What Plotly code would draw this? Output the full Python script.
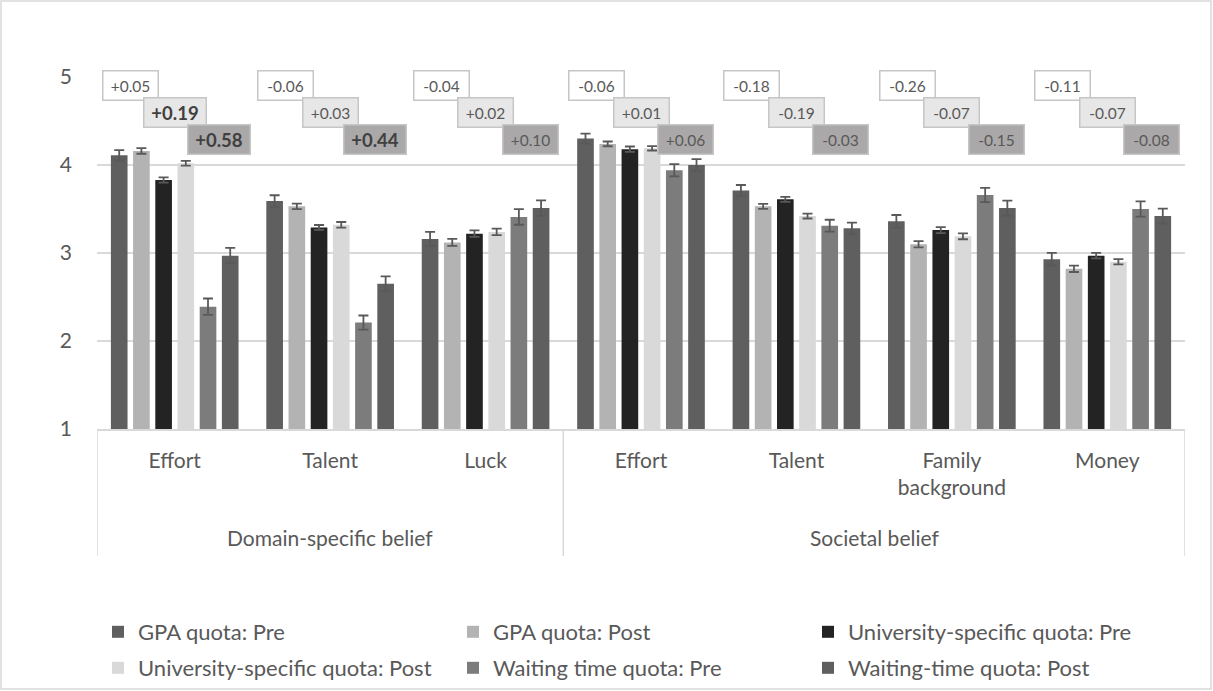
import plotly.graph_objects as go

# ---------------- data ----------------
categories = ["Effort", "Talent", "Luck", "Effort", "Talent", "Family<br>background", "Money"]
groups = ["Domain-specific belief", "Societal belief"]
group_spans = [(0, 2), (3, 6)]

series_names = ["GPA quota: Pre", "GPA quota: Post", "University-specific quota: Pre",
                "University-specific quota: Post", "Waiting time quota: Pre", "Waiting-time quota: Post"]

gpa_pre = [4.11, 3.59, 3.16, 4.30, 3.71, 3.36, 2.93]
gpa_post = [4.16, 3.53, 3.12, 4.24, 3.53, 3.10, 2.82]
uni_pre = [3.83, 3.29, 3.22, 4.18, 3.61, 3.26, 2.97]
uni_post = [4.02, 3.32, 3.24, 4.19, 3.42, 3.19, 2.90]
wait_pre = [2.39, 2.21, 3.41, 3.94, 3.31, 3.66, 3.50]
wait_post = [2.97, 2.65, 3.51, 4.00, 3.28, 3.51, 3.42]

gpa_pre_err = [0.06, 0.066, 0.08, 0.057, 0.063, 0.072, 0.072]
gpa_post_err = [0.032, 0.032, 0.04, 0.027, 0.028, 0.036, 0.036]
uni_pre_err = [0.03, 0.028, 0.036, 0.03, 0.028, 0.034, 0.032]
uni_post_err = [0.026, 0.032, 0.038, 0.025, 0.028, 0.034, 0.03]
wait_pre_err = [0.093, 0.08, 0.089, 0.07, 0.068, 0.081, 0.087]
wait_post_err = [0.089, 0.085, 0.089, 0.066, 0.066, 0.085, 0.085]

diff_gpa = ["+0.05", "-0.06", "-0.04", "-0.06", "-0.18", "-0.26", "-0.11"]
diff_uni = ["+0.19", "+0.03", "+0.02", "+0.01", "-0.19", "-0.07", "-0.07"]
diff_wait = ["+0.58", "+0.44", "+0.10", "+0.06", "-0.03", "-0.15", "-0.08"]
bold_uni = [True, False, False, False, False, False, False]
bold_wait = [True, True, False, False, False, False, False]

y_ticks = [1, 2, 3, 4, 5]

# ---------------- style ----------------
colors = ["#5f5f5f", "#b3b3b3", "#232323", "#d9d9d9", "#7c7c7c", "#5f5f5f"]
FONT = "Lato"
TXT = "#595959"
GRID = "#d9d9d9"
FS = 21
LFS = 22

values = [gpa_pre, gpa_post, uni_pre, uni_post, wait_pre, wait_post]
errors = [gpa_pre_err, gpa_post_err, uni_pre_err, uni_post_err, wait_pre_err, wait_post_err]
xpos = list(range(len(categories)))

fig = go.Figure()
for i, (name, v, e, c) in enumerate(zip(series_names, values, errors, colors)):
    fig.add_trace(go.Bar(
        x=xpos, y=[val - 1 for val in v], base=1, name=name,
        marker=dict(color=c, line=dict(width=0)),
        error_y=dict(type="data", array=e, color="#595959", thickness=1.8, width=5),
        legend="legend" if i < 3 else "legend2",
        hoverinfo="skip",
    ))

# plot area 97..1185 px, y 77..429 px
L, R, T, B = 97, 28, 77, 262
W, H = 1213, 691
pw, ph = W - L - R, H - T - B

def px_x(p):
    return (p - L) / pw

def px_y(p):
    return (H - B - p) / ph

annotations = []
box_specs = [
    (diff_gpa, [False] * 7, "#ffffff", -0.286, 4.905),
    (diff_uni, bold_uni, "#e7e7e7", 0.0, 4.60),
    (diff_wait, bold_wait, "#aaa8a8", 0.286, 4.295),
]
for labels, bolds, bg, dx, yy in box_specs:
    for i, (lab, b) in enumerate(zip(labels, bolds)):
        annotations.append(dict(
            x=i + dx, y=yy, xref="x", yref="y",
            text=f"<b>{lab}</b>" if b else lab,
            showarrow=False,
            font=dict(family=FONT, size=18.5 if b else 15.5, color="#404040" if b else TXT),
            bgcolor=bg, bordercolor="#c6c6c6", borderwidth=1.5,
            borderpad=5, width=51 if b else 44, height=18,
            xanchor="center", yanchor="middle",
        ))

for g, (a, b) in zip(groups, group_spans):
    annotations.append(dict(
        x=(a + b) / 2, y=px_y(537), xref="x", yref="paper", text=g, showarrow=False,
        font=dict(family=FONT, size=FS, color=TXT), xanchor="center", yanchor="middle",
    ))

shapes = []
# table dividers below the plot
for xd in [-0.5, 2.5, 6.5]:
    shapes.append(dict(type="line", xref="x", yref="paper", x0=xd, x1=xd,
                       y0=0, y1=px_y(556), line=dict(color=GRID, width=1.5)))
# outer chart border
shapes.append(dict(type="rect", xref="paper", yref="paper",
                   x0=px_x(1), x1=px_x(1211), y0=px_y(689), y1=px_y(1),
                   line=dict(color=GRID, width=1.5), fillcolor="rgba(0,0,0,0)", layer="below"))

legend_common = dict(orientation="h", xanchor="left", yanchor="middle",
                     entrywidth=310, entrywidthmode="pixels",
                     font=dict(family=FONT, size=LFS, color=TXT),
                     itemwidth=30, bgcolor="rgba(0,0,0,0)", tracegroupgap=0)

fig.update_layout(
    width=W, height=H,
    margin=dict(l=L, r=R, t=T, b=B, autoexpand=False),
    paper_bgcolor="white", plot_bgcolor="white",
    barmode="group", bargap=0.143, bargroupgap=0.25,
    font=dict(family=FONT, size=FS, color=TXT),
    xaxis=dict(
        range=[-0.5, 6.5], tickmode="array", tickvals=xpos, ticktext=categories,
        showgrid=False, zeroline=False, showline=True, linecolor=GRID, linewidth=1.5,
        ticks="", ticklabelstandoff=12, tickfont=dict(family=FONT, size=FS, color=TXT),
    ),
    yaxis=dict(
        range=[1, 5], tickmode="array", tickvals=y_ticks, showgrid=True, gridcolor=GRID,
        gridwidth=1.5, zeroline=False, showline=False, ticks="", ticklabelstandoff=24,
        tickfont=dict(family=FONT, size=FS, color=TXT),
    ),
    legend=dict(x=px_x(98), y=px_y(632), **legend_common),
    legend2=dict(x=px_x(98), y=px_y(668), **legend_common),
    annotations=annotations,
    shapes=shapes,
    showlegend=True,
)

fig.write_html("out.html", config={"displayModeBar": False},
               post_script="document.body.style.margin='0';")
